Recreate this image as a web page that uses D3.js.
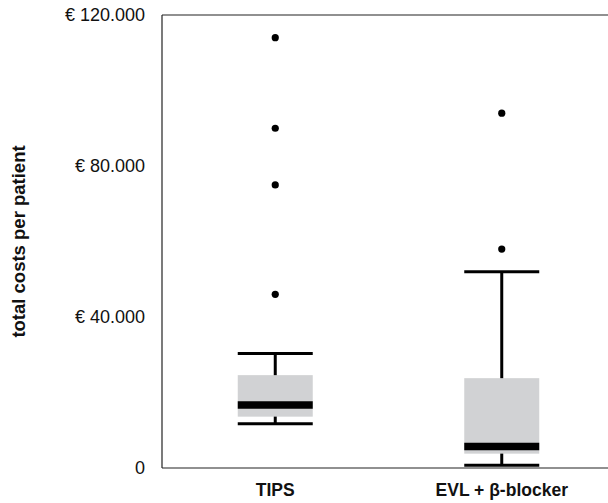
<!DOCTYPE html>
<html>
<head>
<meta charset="utf-8">
<script src="https://cdn.jsdelivr.net/npm/d3@7"></script>
<style>
  body { margin: 0; background: #fff; }
  text { font-family: "Liberation Sans", Arial, sans-serif; fill: #111; }
</style>
</head>
<body>
<div id="chart"></div>
<script>
const width = 608;
const height = 503;

// data
const groups = ["TIPS", "EVL + β-blocker"];
const whiskerLow = [11700, 700];
const q1 = [13600, 3800];
const medians = [16700, 5700];
const q3 = [24600, 23800];
const whiskerHigh = [30300, 52000];
const outliers = [
  [46000, 75000, 90000, 114000],
  [58000, 94000],
];
const yTicks = [0, 40000, 80000, 120000];

const margin = { top: 15, right: 0, bottom: 35, left: 162 };

const svg = d3
  .select("#chart")
  .append("svg")
  .attr("width", width)
  .attr("height", height);

const y = d3
  .scaleLinear()
  .domain([0, 120000])
  .range([height - margin.bottom, margin.top]);

const x = d3
  .scalePoint()
  .domain(groups)
  .range([margin.left, 615])
  .padding(0.5);

const boxW = 75;
const fmt = (v) => (v === 0 ? "0" : "€ " + d3.format(",")(v).replace(/,/g, "."));

// frame: top, bottom, left
const frame = svg.append("g").attr("stroke", "#222").attr("stroke-width", 1.2);
frame.append("line").attr("x1", margin.left).attr("x2", width).attr("y1", y(120000)).attr("y2", y(120000));
frame.append("line").attr("x1", margin.left).attr("x2", width).attr("y1", y(0)).attr("y2", y(0));
frame.append("line").attr("x1", margin.left).attr("x2", margin.left).attr("y1", y(0)).attr("y2", y(120000));

// y axis labels
svg
  .append("g")
  .attr("transform", `translate(${margin.left},0)`)
  .call(d3.axisLeft(y).tickValues(yTicks).tickFormat(fmt).tickSize(0).tickPadding(17))
  .call((g) => g.select(".domain").remove())
  .selectAll("text")
  .style("font-size", "18px")
  .style("font-family", "Liberation Sans, Arial, sans-serif")
  .attr("fill", "#111");

svg
  .append("text")
  .attr("transform", `translate(25,${(y(0) + y(120000)) / 2}) rotate(-90)`)
  .attr("text-anchor", "middle")
  .style("font-size", "18.5px")
  .style("font-weight", "bold")
  .text("total costs per patient");

// x labels
svg
  .selectAll(".xlabel")
  .data(groups)
  .join("text")
  .attr("class", "xlabel")
  .attr("x", (d) => x(d))
  .attr("y", 496)
  .attr("text-anchor", "middle")
  .style("font-size", "17.5px")
  .style("font-weight", "bold")
  .text((d) => d);

// boxes
const box = svg
  .selectAll(".box")
  .data(groups)
  .join("g")
  .attr("class", "box");

// whisker stems
box
  .append("line")
  .attr("x1", (d) => x(d))
  .attr("x2", (d) => x(d))
  .attr("y1", (d, i) => y(whiskerLow[i]))
  .attr("y2", (d, i) => y(whiskerHigh[i]))
  .attr("stroke", "#000")
  .attr("stroke-width", 3);

box
  .append("rect")
  .attr("x", (d) => x(d) - boxW / 2)
  .attr("width", boxW)
  .attr("y", (d, i) => y(q3[i]))
  .attr("height", (d, i) => y(q1[i]) - y(q3[i]))
  .attr("fill", "#d1d2d4");

// caps
[whiskerLow, whiskerHigh].forEach((arr) => {
  box
    .append("line")
    .attr("x1", (d) => x(d) - boxW / 2)
    .attr("x2", (d) => x(d) + boxW / 2)
    .attr("y1", (d, i) => y(arr[i]))
    .attr("y2", (d, i) => y(arr[i]))
    .attr("stroke", "#000")
    .attr("stroke-width", 3);
});

// median
box
  .append("line")
  .attr("x1", (d) => x(d) - boxW / 2)
  .attr("x2", (d) => x(d) + boxW / 2)
  .attr("y1", (d, i) => y(medians[i]))
  .attr("y2", (d, i) => y(medians[i]))
  .attr("stroke", "#000")
  .attr("stroke-width", 7.5);

// outliers
box
  .selectAll("circle")
  .data((d, i) => outliers[i].map((v) => ({ g: d, v })))
  .join("circle")
  .attr("cx", (d) => x(d.g))
  .attr("cy", (d) => y(d.v))
  .attr("r", 3.6)
  .attr("fill", "#000");
</script>
</body>
</html>
